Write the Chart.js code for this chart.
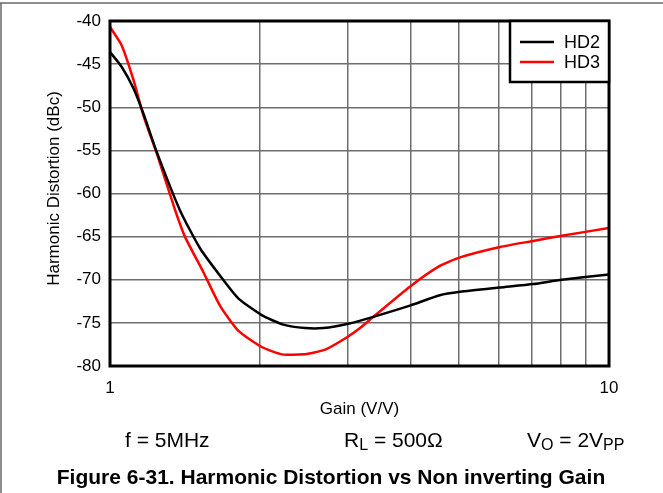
<!DOCTYPE html>
<html>
<head>
<meta charset="utf-8">
<script src="https://cdn.jsdelivr.net/npm/chart.js@4/dist/chart.umd.min.js"></script>
<style>
  html, body { margin: 0; padding: 0; background: #fff; }
  #wrap { position: relative; width: 663px; height: 493px; }
</style>
</head>
<body>
<div id="wrap"><canvas id="chart" width="663" height="493"></canvas></div>
<script>
// Data
const gainHD2 = [1.0, 1.055, 1.114, 1.166, 1.24, 1.38, 1.515, 1.675, 1.807, 2.014, 2.225, 2.46, 2.676, 3.003, 3.37, 3.99, 4.58, 5.03, 6.05, 7.05, 8.04, 10];
const hd2 = [-43.6, -45.3, -47.8, -50.7, -55.15, -61.9, -66.35, -69.8, -72.15, -74.1, -75.2, -75.6, -75.6, -75.1, -74.3, -73.0, -71.8, -71.4, -70.9, -70.5, -70.0, -69.4];

const gainHD3 = [1.0, 1.055, 1.114, 1.166, 1.24, 1.35, 1.413, 1.538, 1.661, 1.807, 2.014, 2.21, 2.44, 2.70, 2.98, 3.17, 3.37, 3.99, 4.58, 5.03, 6.05, 7.05, 8.04, 10];
const hd3 = [-40.7, -42.8, -46.8, -50.9, -55.3, -61.9, -65.0, -69.1, -73.0, -75.9, -77.8, -78.65, -78.65, -78.1, -76.7, -75.6, -74.3, -70.8, -68.4, -67.4, -66.2, -65.5, -64.9, -64.0];

const seriesLabels = ['HD2', 'HD3'];
const seriesColors = ['#000000', '#ff0000'];
const xGridValues = [1, 2, 3, 4, 5, 6, 7, 8, 9, 10];
const xTickLabels = [1, 10];
const yMin = -80, yMax = -40, yStep = 5;

const FONT = '"Liberation Sans", Arial, sans-serif';

function toPoints(xs, ys) {
    return xs.map((x, i) => ({ x: x, y: ys[i] }));
}

// Draws frame, plot border, legend, axis titles and the notes under the plot
const decorations = {
    id: 'decorations',
    afterDraw(chart) {
        const ctx = chart.ctx;
        const a = chart.chartArea;
        ctx.save();

        // outer figure frame (top + left)
        ctx.strokeStyle = '#6a6a6a';
        ctx.lineWidth = 1.5;
        ctx.beginPath();
        ctx.moveTo(0, 3);
        ctx.lineTo(663, 3);
        ctx.moveTo(1, 3);
        ctx.lineTo(1, 493);
        ctx.stroke();

        // plot border
        ctx.strokeStyle = '#000';
        ctx.lineWidth = 3;
        ctx.strokeRect(a.left, a.top, a.right - a.left, a.bottom - a.top);

        // legend box
        const lw = 99, lh = 61;
        const lx = a.right - lw, ly = a.top;
        ctx.fillStyle = '#fff';
        ctx.fillRect(lx, ly, lw, lh);
        ctx.lineWidth = 2.5;
        ctx.strokeRect(lx, ly, lw, lh);
        ctx.font = '18px ' + FONT;
        ctx.textBaseline = 'middle';
        ctx.textAlign = 'left';
        chart.data.datasets.forEach((ds, i) => {
            const yy = ly + 21 + i * 20;
            ctx.strokeStyle = ds.borderColor;
            ctx.lineWidth = 2.5;
            ctx.beginPath();
            ctx.moveTo(lx + 10, yy);
            ctx.lineTo(lx + 44, yy);
            ctx.stroke();
            ctx.fillStyle = '#000';
            ctx.fillText(ds.label, lx + 54, yy + 1);
        });

        // axis titles
        ctx.fillStyle = '#000';
        ctx.font = '17px ' + FONT;
        ctx.textAlign = 'center';
        ctx.textBaseline = 'middle';
        ctx.fillText('Gain (V/V)', (a.left + a.right) / 2, 409);

        ctx.save();
        ctx.translate(54, (a.top + a.bottom) / 2 - 5);
        ctx.rotate(-Math.PI / 2);
        ctx.fillText('Harmonic Distortion (dBc)', 0, 0);
        ctx.restore();

        // test conditions with subscripts
        const noteY = 441;
        function drawParts(x, parts) {
            ctx.textAlign = 'left';
            ctx.textBaseline = 'middle';
            parts.forEach(p => {
                ctx.font = (p.sub ? '16px ' : '21px ') + FONT;
                ctx.fillText(p.t, x, noteY + (p.sub ? 5 : 0));
                x += ctx.measureText(p.t).width;
            });
        }
        drawParts(125, [{ t: 'f = 5MHz' }]);
        drawParts(344, [{ t: 'R' }, { t: 'L', sub: true }, { t: ' = 500Ω' }]);
        drawParts(527, [{ t: 'V' }, { t: 'O', sub: true }, { t: ' = 2V' }, { t: 'PP', sub: true }]);

        // caption
        ctx.font = 'bold 21px ' + FONT;
        ctx.textAlign = 'center';
        ctx.fillText('Figure 6-31. Harmonic Distortion vs Non inverting Gain', 331, 478);

        ctx.restore();
    }
};

new Chart(document.getElementById('chart'), {
    type: 'line',
    data: {
        datasets: [
            {
                label: seriesLabels[0],
                data: toPoints(gainHD2, hd2),
                borderColor: seriesColors[0],
                borderWidth: 2.5,
                pointRadius: 0,
                tension: 0.2,
                fill: false
            },
            {
                label: seriesLabels[1],
                data: toPoints(gainHD3, hd3),
                borderColor: seriesColors[1],
                borderWidth: 2.5,
                pointRadius: 0,
                tension: 0.2,
                fill: false
            }
        ]
    },
    options: {
        responsive: false,
        animation: false,
        devicePixelRatio: 1,
        layout: { padding: { left: 0, top: 21, right: 54, bottom: 0 } },
        plugins: {
            legend: { display: false },
            tooltip: { enabled: false }
        },
        scales: {
            x: {
                type: 'logarithmic',
                min: 1,
                max: 10,
                grid: { color: '#6e6e6e', lineWidth: 1.5, drawTicks: false },
                border: { display: false },
                afterBuildTicks: (scale) => {
                    scale.ticks = xGridValues.map(v => ({ value: v }));
                },
                ticks: {
                    autoSkip: false,
                    maxRotation: 0,
                    padding: 12,
                    color: '#000',
                    font: { family: FONT, size: 17 },
                    callback: (v) => xTickLabels.includes(v) ? String(v) : ''
                },
                afterFit: (scale) => { scale.height = 127; }
            },
            y: {
                min: yMin,
                max: yMax,
                grid: { color: '#6e6e6e', lineWidth: 1.5, drawTicks: false },
                border: { display: false },
                ticks: {
                    stepSize: yStep,
                    padding: 9,
                    color: '#000',
                    font: { family: FONT, size: 17 }
                },
                afterFit: (scale) => { scale.width = 110; }
            }
        }
    },
    plugins: [decorations]
});
</script>
</body>
</html>
